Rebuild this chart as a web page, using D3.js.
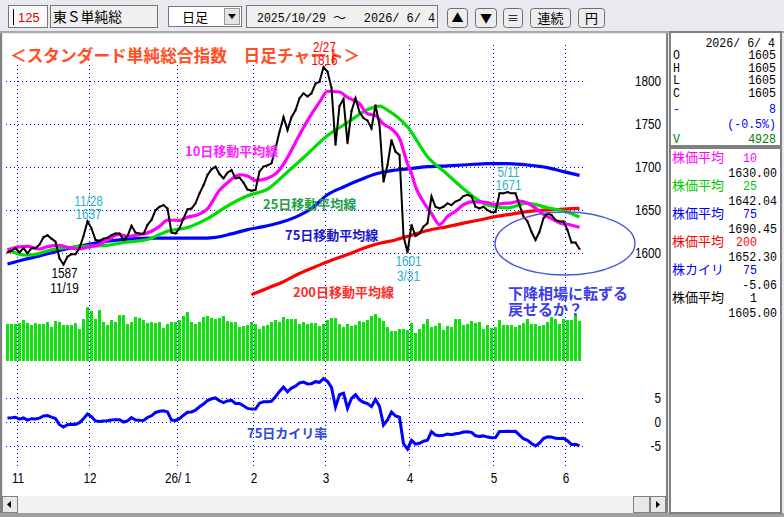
<!DOCTYPE html>
<html><head><meta charset="utf-8">
<script src="https://cdn.jsdelivr.net/npm/d3@7"></script>
<style>
html,body{margin:0;padding:0;background:#fff;}
svg{display:block;}
text{white-space:pre;}
</style></head><body>
<svg id="c" width="784" height="517"></svg>
<script>
// ---------------- DATA ----------------
const closes = [1601,1603,1606,1601,1606,1600,1606,1606,1610,1618.6,
 1621,1617,1613.5,1594,1587,1596,1599,1599,1606,1620,
 1637,1629,1615.5,1614.7,1617,1618,1621,1623,1623,1615.5,
 1620,1632,1624,1623,1622.4,1633,1638.7,1650,1654,1656,
 1652,1624,1623,1629,1640.6,1651,1652,1658,1669.6,1679,
 1691,1697.5,1700.6,1692,1687,1693.6,1696.7,1687,1688,1682,
 1674,1672.7,1673.5,1695,1700.6,1702,1704.4,1721.7,1741,1758,
 1743,1758,1766,1780,1785.7,1782,1785.7,1797,1799,1816,
 1811,1792,1725.7,1771,1779,1727.7,1765,1780,1764,1757,
 1754,1745,1772,1749,1683,1702.5,1731.5,1718,1714,1620,
 1601,1633,1620,1623,1631,1635,1666,1654,1652,1654,
 1658,1656,1660,1662,1666.5,1668,1666,1654,1652,1654,
 1650,1647.6,1648,1669.6,1669.6,1671,1669.6,1669.6,1656,1642.5,
 1637,1625,1615.5,1625,1640.6,1646.4,1644.5,1638.7,1637,1637,
 1627,1612.4,1612.4,1605];

const volumes = [4540,4540,4540,4670,5040,4670,4420,4670,4540,4540,
 4790,4170,4920,4790,4420,4420,4420,4670,3920,5160,
 6650,6150,5160,6280,4790,4420,5040,4790,5660,5660,
 4540,4790,5410,5290,5040,4670,4790,4670,4790,4050,
 4540,4790,4790,5040,5530,6030,4790,4540,4790,5410,
 5530,5290,5160,5290,5530,4920,4790,4790,4170,4300,
 4420,4790,4540,3920,4300,4420,4790,5040,4790,5410,
 5160,5160,5160,4540,4790,4540,4670,4670,4300,4540,
 5040,5290,5290,4540,4170,4540,4300,4420,4920,4790,
 5040,5530,5780,5290,4920,4170,3680,3680,3920,3920,
 3800,4670,3430,3920,4540,5160,4170,4300,4670,3800,
 4300,4170,5160,5160,4420,4540,4920,4670,4790,3920,
 4420,4050,4170,5040,4420,4420,4420,4170,4420,4670,
 5160,4540,4540,4300,4420,4790,5410,5160,4540,5160,
 5040,5040,5780,4928];

const kairi75 = [0.85,0.89,1.00,0.61,0.85,0.40,0.70,0.63,0.81,1.27,
 1.34,1.01,0.72,-0.56,-1.08,-0.59,-0.47,-0.52,-0.14,0.68,
 1.68,1.12,0.23,0.13,0.22,0.25,0.40,0.50,0.46,-0.02,
 0.23,0.95,0.43,0.36,0.32,0.96,1.31,2.01,2.26,2.38,
 2.13,0.40,0.34,0.71,1.43,2.07,2.13,2.50,3.22,3.79,
 4.51,4.90,5.07,4.48,4.10,4.45,4.57,3.90,3.88,3.43,
 2.86,2.72,2.72,3.98,4.27,4.28,4.36,5.34,6.45,7.39,
 6.36,7.17,7.55,8.24,8.42,8.03,8.09,8.51,8.37,9.13,
 8.57,7.29,3.18,5.75,6.08,2.90,5.00,5.76,4.69,4.16,
 3.88,3.24,4.73,3.31,-0.65,0.44,2.09,1.27,1.00,-4.57,
 -5.71,-3.86,-4.65,-4.50,-4.06,-3.85,-2.04,-2.76,-2.89,-2.78,
 -2.56,-2.69,-2.47,-2.37,-2.12,-2.04,-2.18,-2.90,-3.03,-2.93,
 -3.18,-3.32,-3.29,-2.02,-2.02,-1.94,-2.00,-1.98,-2.77,-3.54,
 -3.85,-4.52,-5.04,-4.45,-3.50,-3.12,-3.17,-3.45,-3.48,-3.41,
 -3.94,-4.74,-4.68,-5.06];

// moving averages: [day index, value]
const ma10 = [[0,1604],[3,1607.5],[5,1608],[8,1605],[10,1607.8],[13,1609.2],[15,1606.9],[18,1605],[20,1607],[23,1610.3],[25,1615.5],[28,1621.8],[30,1619.7],[33,1621.7],[35,1623.7],[38,1631.3],[40,1638.5],[43,1638.2],[45,1641.8],[48,1645.5],[50,1651.7],[53,1673.1],[55,1682],[58,1691.2],[60,1689.8],[62,1684.7],[65,1687.2],[68,1696.7],[70,1711.2],[73,1737.5],[75,1754],[78,1775.4],[80,1788.1],[83,1787.2],[85,1781],[88,1773.6],[90,1762],[92,1760],[94,1750],[96,1744.3],[98,1733.3],[100,1704],[101,1692.7],[102,1677.5],[104,1659.5],[106,1646.2],[108,1633.4],[110,1642.6],[112,1648.9],[114,1656.4],[116,1659.7],[118,1659.7],[120,1658.9],[122,1656.8],[124,1657.9],[126,1658.5],[128,1660.5],[130,1658],[132,1652.5],[134,1645.2],[136,1640.2],[138,1635.2],[140,1633.7],[143,1630]];
const ma25 = [[0,1603.5],[2,1600.5],[4,1598],[6,1598],[8,1600],[10,1603],[12,1605],[15,1606.5],[20,1608.5],[24,1608.9],[30,1613.1],[35,1616],[40,1625.7],[45,1630],[50,1640.2],[55,1654.9],[60,1666.7],[65,1674.4],[70,1694.4],[75,1715.3],[80,1736.8],[85,1751.7],[90,1766.8],[93,1770.9],[95,1766.3],[100,1746.8],[105,1712.1],[110,1691.5],[115,1671.1],[120,1656],[125,1652.8],[130,1658.1],[135,1652.9],[140,1647.7],[143,1642.04]];
const ma75 = [[0,1587.5],[4,1592.5],[8,1597],[12,1602],[16,1606.5],[20,1610],[24,1613.5],[28,1615.5],[32,1617],[36,1617.5],[44,1617.5],[48,1617.5],[52,1618.5],[56,1622.5],[60,1627.5],[64,1631],[68,1635.5],[72,1642],[76,1652],[80,1668],[84,1677],[88,1685],[92,1692],[96,1696],[100,1698],[105,1700.5],[110,1701.5],[115,1702.8],[120,1704.2],[125,1704],[130,1702.5],[135,1699.5],[139,1694.8],[143,1690.45]];
const ma200 = [[61,1552],[65,1559.5],[69,1567],[73,1576.5],[77,1584.5],[81,1592],[85,1598.5],[89,1605.8],[93,1611.6],[97,1615.5],[101,1621],[105,1626.5],[110,1631],[114,1635],[118,1638.7],[122,1642.5],[126,1645.5],[130,1648.3],[135,1650.3],[139,1651.2],[143,1652.3]];

const monthStartIdx = [3,21,43,62,80,101,122,140];
const monthLabels = ["11","12","26/ 1","2","3","4","5","6"];
const priceTicks = [1600,1650,1700,1750,1800];
const kairiTicks = [-5,0,5];

const peakIdx   = [14, 20, 79, 100, 125];
const peakText1 = ["1587","11/28","2/27","1601","5/11"];
const peakText2 = ["11/19","1637","1816","3/31","1671"];
const peakBelow = [true,false,false,true,false];
const peakColor = ["#000000","#27b3c6","#ff0000","#27b3c6","#27b3c6"];

const infoDate = "2026/ 6/ 4";
const ohlcNames = ["O","H","L","C"];
const ohlcVals = ["1605","1605","1605","1605"];
const changeVal = "8", changePct = "(-0.5%)", volVal = "4928";
const avgNames = ["株価平均","株価平均","株価平均","株価平均","株カイリ","株価平均"];
const avgParams = ["10","25","75","200","75","1"];
const avgVals = ["1630.00","1642.04","1690.45","1652.30","-5.06","1605.00"];
const avgColors = ["#ff00ff","#00c800","#0000ff","#ff0000","#0000ff","#000000"];

// ---------------- DRAW ----------------
const svg = d3.select('#c');
const NUM = '"Liberation Sans", Arial, sans-serif';
const MONO = '"Liberation Mono", "DejaVu Sans Mono", monospace';
const JP = '"Noto Sans CJK JP", sans-serif';
function txt(g,x,y,s,o={}){
  return g.append('text')
    .attr('transform',`translate(${x},${y}) scale(${o.sx||1},1)`)
    .attr('text-anchor',o.anchor||'start')
    .attr('fill',o.color||'#000')
    .style('font-family',o.font||NUM)
    .style('font-size',(o.size||13)+'px')
    .style('font-weight',o.weight||'normal')
    .text(s);
}

// window background
svg.append('rect').attr('x',0).attr('y',0).attr('width',784).attr('height',517).attr('fill','#e9e9ef');
svg.append('rect').attr('x',0).attr('y',31).attr('width',784).attr('height',2).attr('fill','#a8a8a8');

// main panel
svg.append('rect').attr('x',3).attr('y',34).attr('width',663).attr('height',462).attr('fill','#fff');
svg.append('rect').attr('x',0).attr('y',33).attr('width',2).attr('height',484).attr('fill','#808080');
svg.append('rect').attr('x',666).attr('y',33).attr('width',2).attr('height',484).attr('fill','#808080');
// scrollbar
svg.append('rect').attr('x',2).attr('y',496).attr('width',664).attr('height',17).attr('fill','#f2f2f2');
svg.append('rect').attr('x',2.5).attr('y',496.5).attr('width',15).attr('height',16).attr('fill','#e8e8e8').attr('stroke','#808080');
svg.append('path').attr('d','M7,504.5 L11,501 L11,508 Z').attr('fill','#000');
svg.append('rect').attr('x',633.5).attr('y',496.5).attr('width',16).attr('height',16).attr('fill','#e8e8e8').attr('stroke','#808080');
svg.append('rect').attr('x',650.5).attr('y',496.5).attr('width',15).attr('height',16).attr('fill','#e8e8e8').attr('stroke','#808080');
svg.append('path').attr('d','M656,501 L660,504.5 L656,508 Z').attr('fill','#000');
svg.append('rect').attr('x',0).attr('y',513).attr('width',784).attr('height',4).attr('fill','#a0a0a0');

// right info panels
svg.append('rect').attr('x',670).attr('y',32).attr('width',111).attr('height',114).attr('fill','#fff').attr('stroke','#808080').attr('stroke-width',2);
svg.append('rect').attr('x',670).attr('y',148).attr('width',111).attr('height',365).attr('fill','#fff').attr('stroke','#808080').attr('stroke-width',2);

// toolbar widgets
const tb = svg.append('g');
tb.append('rect').attr('x',8.5).attr('y',5.5).attr('width',39).attr('height',22).attr('fill','#fafafa').attr('stroke','#777');
tb.append('rect').attr('x',13).attr('y',9).attr('width',1).attr('height',16).attr('fill','#000');
txt(tb,18,22,'125',{color:'#e00000',size:13});
tb.append('rect').attr('x',50.5).attr('y',5.5).attr('width',107).attr('height',22).attr('fill','#f0f0f0').attr('stroke','#777');
txt(tb,53,22,'東Ｓ単純総',{font:JP,size:13.8});
tb.append('rect').attr('x',168.5).attr('y',6.5).attr('width',73).attr('height',20).attr('fill','#fff').attr('stroke','#777');
txt(tb,195,22,'日足',{font:JP,size:13,anchor:'middle'});
tb.append('rect').attr('x',224.5).attr('y',8.5).attr('width',15).attr('height',16).attr('fill','#e4e4e4').attr('stroke','#999');
tb.append('path').attr('d','M228,14 L236,14 L232,19 Z').attr('fill','#000');
tb.append('rect').attr('x',246.5).attr('y',5.5).attr('width',191).attr('height',22).attr('fill','#f0f0f0').attr('stroke','#777');
txt(tb,257,22,'2025/10/29',{font:MONO,size:13.5,sx:0.85});
txt(tb,333,22,'～',{font:JP,size:13});
txt(tb,435,22,'2026/ 6/ 4',{font:MONO,size:13.5,sx:0.88,anchor:'end'});
const btns = [[447,20,'▲'],[475,21,'▼'],[503,19,'≡'],[530,40,'連続'],[578,26,'円']];
btns.forEach(b=>{
  tb.append('rect').attr('x',b[0]+0.5).attr('y',8.5).attr('width',b[1]).attr('height',19).attr('rx',3)
    .attr('fill','#ededed').attr('stroke','#6e6e6e');
  txt(tb,b[0]+b[1]/2+0.5,23,b[2],{font:JP,size:(b[2].length>1||b[2]==='円')?13:12,anchor:'middle'});
});

// scales
const x = d3.scaleLinear().domain([0,143]).range([7.5,579.5]);
const yP = d3.scaleLinear().domain([1600,1800]).range([253.3,81]);
const yV = d3.scaleLinear().domain([0,4928]).range([361,321.3]);
const yK = d3.scaleLinear().domain([-5,5]).range([445.7,398.3]);

// grid
const grid = svg.append('g').attr('shape-rendering','crispEdges').attr('stroke','#0000ff').attr('stroke-dasharray','1,3');
monthStartIdx.forEach(i=>{
  const gx = Math.floor(x(i)-2)+0.5;
  grid.append('line').attr('x1',gx).attr('x2',gx).attr('y1',45).attr('y2',468);
});
priceTicks.forEach(v=>{
  const gy = Math.round(yP(v))+0.5;
  grid.append('line').attr('x1',6).attr('x2',584).attr('y1',gy).attr('y2',gy);
});
kairiTicks.forEach(v=>{
  const gy = Math.round(yK(v))+0.5;
  grid.append('line').attr('x1',6).attr('x2',584).attr('y1',gy).attr('y2',gy);
});

// volume bars
svg.append('g').attr('shape-rendering','crispEdges').selectAll('rect').data(volumes).join('rect')
  .attr('x',(d,i)=>Math.round(x(i)-1.5)).attr('width',3)
  .attr('y',d=>Math.round(yV(d))).attr('height',d=>361-Math.round(yV(d)))
  .attr('fill','#10e010');

// title (with white background hiding grid)
svg.append('rect').attr('x',8).attr('y',44).attr('width',350).attr('height',21).attr('fill','#fff');
txt(svg,10,62,'＜スタンダード単純総合指数　日足チャート＞',{font:JP,size:16.7,weight:'bold',color:'#ff4f24'});

// moving averages
const maLine = d3.line().x(d=>x(d[0])).y(d=>yP(d[1])).curve(d3.curveMonotoneX);
const maSets = [[ma200,'#ff0000'],[ma75,'#0000ff'],[ma25,'#00dd00'],[ma10,'#ff00ff']];
maSets.forEach(m=>{
  svg.append('path').attr('d',maLine(m[0])).attr('fill','none').attr('stroke',m[1]).attr('stroke-width',3.2);
});

// close line (red vertex marks under the black line)
svg.append('g').selectAll('rect').data(closes).join('rect')
  .attr('x',(d,i)=>x(i)-1).attr('y',d=>yP(d)-1).attr('width',2).attr('height',2).attr('fill','#ff0000');
const cLine = d3.line().x((d,i)=>x(i)).y(d=>yP(d));
svg.append('path').attr('d',cLine(closes)).attr('fill','none').attr('stroke','#000').attr('stroke-width',2).attr('stroke-linejoin','miter');

// kairi line
const kLine = d3.line().x((d,i)=>x(i)).y(d=>yK(d));
svg.append('path').attr('d',kLine(kairi75)).attr('fill','none').attr('stroke','#0000ff').attr('stroke-width',3);

// axes
const axP = svg.append('g').attr('transform','translate(661,0)')
  .call(d3.axisLeft(yP).tickValues(priceTicks).tickSize(0).tickPadding(0).tickFormat(d3.format('d')));
const axK = svg.append('g').attr('transform','translate(661,0)')
  .call(d3.axisLeft(yK).tickValues(kairiTicks).tickSize(0).tickPadding(0).tickFormat(d=>d<0?'-'+Math.abs(d):String(d)));
const axM = svg.append('g').attr('transform','translate(-2,473)')
  .call(d3.axisBottom(x).tickValues(monthStartIdx).tickSize(0).tickPadding(0).tickFormat((d,k)=>monthLabels[k]));
[axP,axK,axM].forEach(a=>{
  a.select('.domain').remove();
  a.selectAll('text').attr('fill','#000').style('font-family',NUM).style('font-size','14px').attr('transform','scale(0.84,1)');
});

// MA labels
txt(svg,185,156,'10日移動平均線',{font:JP,size:13,weight:'bold',color:'#ff22ff'});
txt(svg,263,209,'25日移動平均線',{font:JP,size:13,weight:'bold',color:'#22a048'});
txt(svg,285,240,'75日移動平均線',{font:JP,size:13,weight:'bold',color:'#1818c8'});
txt(svg,293,297,'200日移動平均線',{font:JP,size:13,weight:'bold',color:'#ff2a2a'});
txt(svg,247,438,'75日カイリ率',{font:JP,size:13,weight:'bold',color:'#2a48e0'});

// peak / trough labels
peakIdx.forEach((i,k)=>{
  const px = x(i), py = yP(closes[i]);
  const b1 = peakBelow[k] ? py+13.5 : py-15.5;
  const b2 = peakBelow[k] ? py+28.5 : py-2.5;
  txt(svg,px+1,b1,peakText1[k],{size:14,sx:0.84,anchor:'middle',color:peakColor[k]});
  txt(svg,px+1,b2,peakText2[k],{size:14,sx:0.84,anchor:'middle',color:peakColor[k]});
});

// comment and ellipse
svg.append('ellipse').attr('cx',565).attr('cy',243.5).attr('rx',70).attr('ry',31.5)
  .attr('fill','none').attr('stroke','#4a5ad8').attr('stroke-width',1.4);
txt(svg,508,299,'下降相場に転ずる',{font:JP,size:15,weight:'bold',color:'#3c3ce6'});
txt(svg,508,315,'戻せるか？',{font:JP,size:15,weight:'bold',color:'#3c3ce6'});

// info panel 1
const ip = svg.append('g');
const PS = {font:MONO,size:13.5,sx:0.86};
txt(ip,775,47,infoDate,Object.assign({},PS,{anchor:'end'}));
const rowY = [59.3,71.7,84,96.7];
ohlcNames.forEach((n,k)=>{
  txt(ip,673,rowY[k],n,PS);
  txt(ip,776,rowY[k],ohlcVals[k],Object.assign({},PS,{anchor:'end'}));
});
txt(ip,673,113,'-',Object.assign({},PS,{color:'#0000ff'}));
txt(ip,776,113,changeVal,Object.assign({},PS,{anchor:'end',color:'#0000ff'}));
txt(ip,776,128,changePct,Object.assign({},PS,{anchor:'end',color:'#0000ff'}));
txt(ip,673,143,'V',Object.assign({},PS,{color:'#008000'}));
txt(ip,776,143,volVal,Object.assign({},PS,{anchor:'end',color:'#008000'}));

// info panel 2
avgNames.forEach((n,k)=>{
  const by = 162 + 28*k;
  txt(ip,672,by,n,{font:JP,size:13,color:avgColors[k]});
  txt(ip,757,by,avgParams[k],Object.assign({},PS,{anchor:'end',color:avgColors[k]}));
  txt(ip,777,by+14.5,avgVals[k],Object.assign({},PS,{anchor:'end'}));
});
</script>
</body></html>
